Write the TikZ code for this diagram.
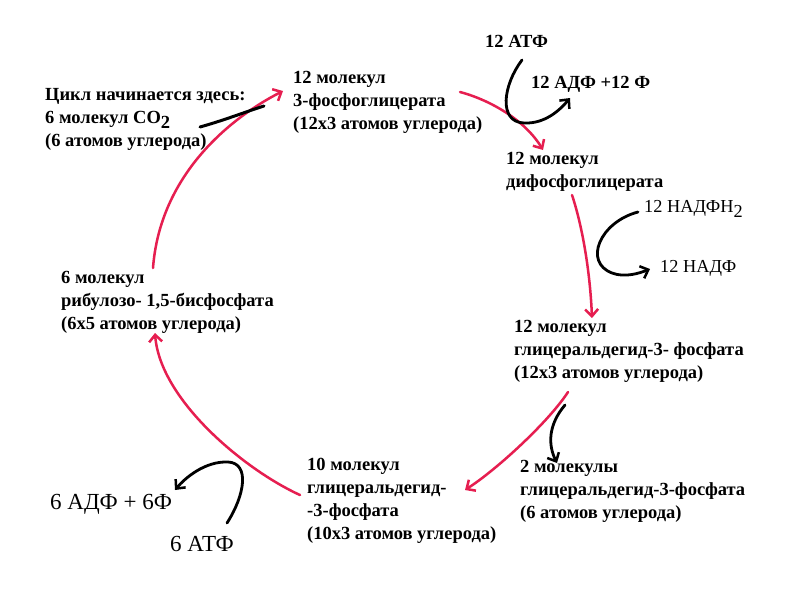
\documentclass[tikz,border=0pt]{standalone}
\usepackage{fontspec}
\setmainfont{Liberation Serif}
\usetikzlibrary{arrows.meta}
\definecolor{cyc}{RGB}{230,30,80}
\newcommand{\lowtwo}{\raisebox{-5pt}{2}}
\begin{document}
\begin{tikzpicture}[x=1pt,y=-1pt,
  lbl/.style={anchor=north west,inner sep=0pt,align=left,font=\fontsize{18.5}{23}\selectfont\bfseries},
  reg/.style={anchor=north west,inner sep=0pt,align=left,font=\fontsize{18.3}{22}\selectfont},
  big/.style={anchor=north west,inner sep=0pt,font=\fontsize{23}{27}\selectfont},
  tip/.style={-{Straight Barb[length=7pt,width=13pt,line width=2.5pt]}},
  redarr/.style={draw=cyc,line width=2.5pt,line cap=round,tip},
  blkarr/.style={draw=black,line width=2.8pt,line cap=round,tip},
  blkline/.style={draw=black,line width=3pt,line cap=round}]
\fill[white] (0,0) rectangle (800,600);
\useasboundingbox (0,0) rectangle (800,600);

% texts
\node[lbl] (co2) at (45,88) {Цикл начинается здесь:\\6 молекул CO\lowtwo\\(6 атомов углерода)};
\node[lbl] (pga) at (293,71) {12 молекул\\3-фосфоглицерата\\(12x3 атомов углерода)};
\node[lbl] (atp12) at (485,35) {12 АТФ};
\node[lbl] (adp12) at (531,76) {12 АДФ +12 Ф};
\node[lbl] (dpga) at (506,152) {12 молекул\\дифосфоглицерата};
\node[reg] (nadph) at (644,200) {12 НАДФН\lowtwo};
\node[reg] (nadp) at (660,260) {12 НАДФ};
\node[lbl] (g3p12) at (514,320) {12 молекул\\глицеральдегид-3- фосфата\\(12x3 атомов углерода)};
\node[lbl] (g3p2) at (520,460) {2 молекулы\\глицеральдегид-3-фосфата\\(6 атомов углерода)};
\node[lbl] (g3p10) at (307,458) {10 молекул\\глицеральдегид-\\-3-фосфата\\(10x3 атомов углерода)};
\node[lbl] (rubp) at (61,271) {6 молекул\\рибулозо- 1,5-бисфосфата\\(6x5 атомов углерода)};
\node[big] (adp6) at (50,494) {6 АДФ + 6Ф};
\node[big] (atp6) at (170,536) {6 АТФ};

% connector end points
\coordinate (r1s) at (153,268);
\coordinate (r1e) at (283,91);
\coordinate (r2s) at (460,92);
\coordinate (r2e) at (543,150);
\coordinate (r3s) at (572,195);
\coordinate (r3e) at (592,318);
\coordinate (r4s) at (568,392);
\coordinate (r4e) at (465,490);
\coordinate (r5s) at (300,495);
\coordinate (r5e) at (155,333);
\coordinate (c1s) at (200,127);
\coordinate (c1e) at (264,106);
\coordinate (a1s) at (522,60);
\coordinate (a1m) at (524,123);
\coordinate (a1e) at (570,98);
\coordinate (n1s) at (638,212);
\coordinate (n1m) at (612,273);
\coordinate (n1e) at (650,269);
\coordinate (s1s) at (565,405);
\coordinate (s1e) at (557,463);
\coordinate (b1s) at (227,523);
\coordinate (b1m) at (228,462);
\coordinate (b1e) at (175,490);

% red cycle arrows
\draw[redarr] (r1s) .. controls (160,175) and (230,118) .. (r1e);
\draw[redarr] (r2s) .. controls (490,100) and (525,120) .. (r2e);
\draw[redarr] (r3s) .. controls (582,225) and (590,270) .. (r3e);
\draw[redarr] (r4s) .. controls (550,420) and (499,468) .. (r4e);
\draw[redarr] (r5s) .. controls (245,470) and (160,400) .. (r5e);

% black arrows
\draw[blkline] (c1s) .. controls (225,120) and (245,112) .. (c1e);
\draw[blkarr] (a1s) .. controls (503,85) and (498,122) .. (a1m) .. controls (545,124) and (560,110) .. (a1e);
\draw[blkarr] (n1s) .. controls (600,222) and (583,262) .. (n1m) .. controls (625,278) and (640,273) .. (n1e);
\draw[blkarr] (s1s) .. controls (548,425) and (548,445) .. (s1e);
\draw[blkarr] (b1s) .. controls (245,495) and (250,463) .. (b1m) .. controls (205,461) and (185,478) .. (b1e);
\end{tikzpicture}
\end{document}
